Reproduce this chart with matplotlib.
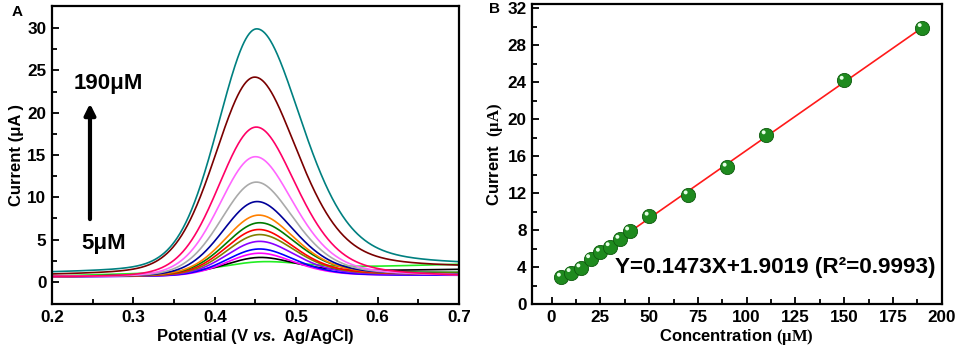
import numpy as np
import matplotlib
matplotlib.use("Agg")
import matplotlib.pyplot as plt
import matplotlib.transforms as mtransforms

plt.rcParams['font.family'] = ['Liberation Sans', 'DejaVu Sans']
plt.rcParams['font.weight'] = 'bold'
plt.rcParams['mathtext.fontset'] = 'custom'
plt.rcParams['mathtext.rm'] = 'Liberation Serif'
plt.rcParams['mathtext.it'] = 'Liberation Sans:italic:bold'
plt.rcParams['mathtext.bf'] = 'Liberation Sans:bold'

# ---- Panel A: DPV peak parameters ----
curve_colors = ['#22ee22', '#000000', '#ff00ff', '#0000ff', '#8a00ff', '#808000',
                '#ff0000', '#007a00', '#ff8000', '#000099', '#aaaaaa', '#ff66ff',
                '#ff0066', '#7a0000', '#008080']
peak_current = [2.4, 2.9, 3.4, 3.9, 4.8, 5.6, 6.2, 7.0, 7.9, 9.5, 11.8, 14.8, 18.3, 24.2, 29.9]
peak_potential = [0.458, 0.455, 0.455, 0.455, 0.455, 0.455, 0.454, 0.455, 0.454, 0.452,
                  0.451, 0.450, 0.451, 0.449, 0.4515]
half_width_left = [0.055, 0.048, 0.048, 0.048, 0.048, 0.048, 0.048, 0.049, 0.049, 0.050,
                   0.051, 0.052, 0.055, 0.057, 0.056]
half_width_right = [0.060, 0.052, 0.052, 0.052, 0.053, 0.053, 0.053, 0.054, 0.054, 0.055,
                    0.056, 0.057, 0.0595, 0.064, 0.067]
end_left = [0.70, 0.63, 0.63, 0.63, 0.63, 0.63, 0.65, 0.65, 0.65, 0.65, 0.65, 0.65, 0.65, 0.95, 1.22]
end_right = [2.10, 1.50, 0.80, 0.80, 0.85, 0.95, 1.00, 1.15, 1.00, 0.95, 0.90, 0.85, 0.85, 2.00, 2.40]

# ---- Panel B: calibration data ----
conc = [5, 10, 15, 20, 25, 30, 35, 40, 50, 70, 90, 110, 150, 190]
current = [2.9, 3.4, 3.9, 4.9, 5.6, 6.2, 7.0, 7.9, 9.5, 11.8, 14.8, 18.3, 24.2, 29.9]
slope, intercept = 0.1473, 1.9019

fig = plt.figure(figsize=(9.57, 3.53), dpi=100)
axA = fig.add_axes([0.0543, 0.1388, 0.4253, 0.8442])
axB = fig.add_axes([0.556, 0.1388, 0.428, 0.8485])


def peak_shape(x, x0, wl, wr):
    left = x < x0
    w = np.where(left, wl, wr)
    eta = np.where(left, 0.15, 0.4)
    d = (x - x0) / w
    g = np.exp(-np.log(2) * d ** 2)
    l = 1.0 / (1.0 + d ** 2)
    return (1 - eta) * g + eta * l


x = np.linspace(0.2, 0.7, 700)
for c, h, x0, wl, wr, b0, b1 in zip(curve_colors, peak_current, peak_potential,
                                    half_width_left, half_width_right, end_left, end_right):
    p = peak_shape(x, x0, wl, wr)
    p_lin = p[0] + (p[-1] - p[0]) * (x - 0.2) / 0.5
    p_lin0 = p[0] + (p[-1] - p[0]) * (x0 - 0.2) / 0.5
    shape = (p - p_lin) / (1 - p_lin0)
    base = b0 + (b1 - b0) * (x - 0.2) / 0.5
    b_at = b0 + (b1 - b0) * (x0 - 0.2) / 0.5
    axA.plot(x, base + (h - b_at) * shape, color=c, lw=1.2)

axA.set_xlim(0.2, 0.7)
axA.set_ylim(-2.6, 32.6)
axA.set_xticks(np.arange(0.2, 0.71, 0.1))
axA.set_xticks(np.arange(0.25, 0.7, 0.1), minor=True)
axA.set_yticks(np.arange(0, 31, 5))
axA.set_yticks(np.arange(2.5, 31, 5), minor=True)
axA.set_xlabel(r'Potential (V $\mathit{vs.}$ Ag/AgCl)', fontsize=12, fontweight='bold', labelpad=2)
axA.set_ylabel('Current (μA )', fontsize=12, fontweight='bold', labelpad=2)
axA.annotate('', xy=(0.2467, 21.4), xytext=(0.2467, 7.1),
             arrowprops=dict(arrowstyle='-|>', lw=3, color='black', mutation_scale=16))
axA.text(0.227, 23.5, '190μM', fontsize=16, fontweight='bold', va='center', ha='left')
axA.text(0.2355, 4.6, '5μM', fontsize=16, fontweight='bold', va='center', ha='left')

# Panel B
axB.plot([conc[0], conc[-1]], [slope * conc[0] + intercept, slope * conc[-1] + intercept],
         color='#ff1a1a', lw=1.2, zorder=2)
axB.scatter(conc, current, s=105, color='#1e8a1e', edgecolors='#0d5a0d', linewidths=0.6, zorder=3)
off = mtransforms.ScaledTranslation(-1.8 / 72, 1.8 / 72, fig.dpi_scale_trans)
axB.scatter(conc, current, s=8, color='#e6ffe6', edgecolors='none', zorder=4,
            transform=axB.transData + off)
axB.set_xlim(-10, 200)
axB.set_ylim(0, 32.4)
axB.set_xticks(np.arange(0, 201, 25))
axB.set_xticks(np.arange(12.5, 200, 25), minor=True)
axB.set_yticks(np.arange(0, 33, 4))
axB.set_yticks(np.arange(2, 33, 4), minor=True)
axB.set_xlabel(r'Concentration $\mathrm{(\mu M)}$', fontsize=12, fontweight='bold', labelpad=2)
axB.set_ylabel(r'Current  $\mathrm{(\mu A)}$', fontsize=12, fontweight='bold', labelpad=2)
axB.text(32.5, 4.0, 'Y=0.1473X+1.9019 (R²=0.9993)', fontsize=16.2, fontweight='bold',
         va='center', ha='left')

for ax in (axA, axB):
    for s in ax.spines.values():
        s.set_linewidth(1.6)
    ax.tick_params(which='both', direction='in', top=False, right=False, width=1.3,
                   labelsize=12.3, pad=4)
    ax.tick_params(which='major', length=5)
    ax.tick_params(which='minor', length=3.5)
    for lab in ax.get_xticklabels() + ax.get_yticklabels():
        lab.set_fontweight('bold')

fig.text(0.012, 0.955, 'A', fontsize=11, fontweight='bold')
fig.text(0.511, 0.962, 'B', fontsize=11, fontweight='bold')

fig.savefig('out.png', dpi=100)
